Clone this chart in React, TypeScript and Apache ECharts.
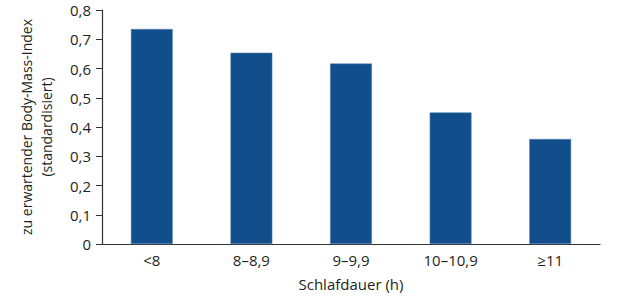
import React, { useEffect, useRef } from "react";
import * as echarts from "echarts";

const categories = ["<8", "8–8,9", "9–9,9", "10–10,9", "≥11"];
const values = [0.735, 0.654, 0.617, 0.45, 0.359];
const yTicks = [0, 0.1, 0.2, 0.3, 0.4, 0.5, 0.6, 0.7, 0.8];

export default function App() {
  const ref = useRef<HTMLDivElement>(null);
  useEffect(() => {
    if (!ref.current) return;
    const chart = echarts.init(ref.current, undefined, { renderer: "svg" });
    const font = "'Open Sans', 'Noto Sans', sans-serif";
    chart.setOption({
      animation: false,
      grid: { left: 102, right: 20, top: 10, bottom: 49 },
      xAxis: {
        type: "category",
        data: categories,
        name: "Schlafdauer (h)",
        nameLocation: "middle",
        nameGap: 32,
        nameTextStyle: { fontSize: 15, color: "#231f20", fontFamily: font },
        axisLine: { lineStyle: { color: "#333", width: 1.2 } },
        axisTick: { show: false },
        axisLabel: { fontSize: 15, color: "#231f20", fontFamily: font, margin: 8 },
      },
      yAxis: {
        type: "value",
        min: 0,
        max: 0.8,
        interval: 0.1,
        name: "zu erwartender Body-Mass-Index\n(standardisiert)",
        nameLocation: "middle",
        nameGap: 46,
        nameTextStyle: { fontSize: 14, color: "#231f20", fontFamily: font, lineHeight: 20 },
        axisLine: { show: true, lineStyle: { color: "#333", width: 1.2 } },
        axisTick: { show: true, length: 6, lineStyle: { color: "#333" } },
        splitLine: { show: false },
        axisLabel: {
          fontSize: 15,
          color: "#231f20",
          fontFamily: font,
          margin: 11,
          formatter: (v: number) => {
            const t = yTicks.find((x) => Math.abs(x - v) < 1e-6);
            return t === 0 ? "0" : (t ?? v).toFixed(1).replace(".", ",");
          },
        },
      },
      series: [
        {
          type: "bar",
          data: values,
          barWidth: "42%",
          itemStyle: { color: "#124e8b", borderColor: "#5b86b5", borderWidth: 0.5 },
        },
      ],
    });
    return () => chart.dispose();
  }, []);
  return (
    <div
      ref={ref}
      style={{ position: "absolute", left: 0, top: 0, width: 620, height: 296 }}
    />
  );
}
